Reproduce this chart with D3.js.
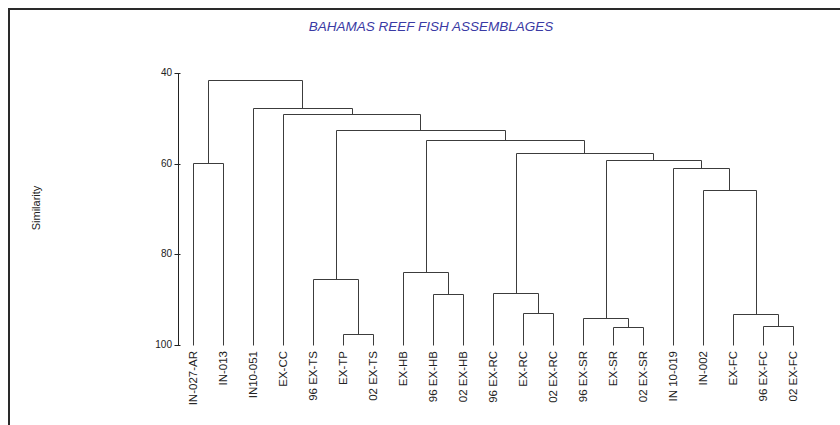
<!DOCTYPE html>
<html>
<head>
<meta charset="utf-8">
<script src="https://cdn.jsdelivr.net/npm/d3@7"></script>
<style>
  html, body { margin: 0; padding: 0; background: #fff; }
  svg { display: block; font-family: "Liberation Sans", Arial, sans-serif; }
</style>
</head>
<body>
<svg id="chart" width="840" height="425"></svg>
<script>
// Sites, in dendrogram leaf order
const leafLabels = [
  "IN-027-AR", "IN-013", "IN10-051", "EX-CC", "96 EX-TS", "EX-TP", "02 EX-TS",
  "EX-HB", "96 EX-HB", "02 EX-HB", "96 EX-RC", "EX-RC", "02 EX-RC",
  "96 EX-SR", "EX-SR", "02 EX-SR", "IN 10-019", "IN-002", "EX-FC", "96 EX-FC", "02 EX-FC"
];

// Agglomeration steps: negative = leaf number (1-based), positive = earlier step number
const mergeLeft  = [-6, -15, -20, -14, -19, -12, -9, -11, -5, -8, -18, -17, -1, 4, 8, 10, 9, -4, -3, 13];
const mergeRight = [-7, -16, -21,   2,   3, -13, -10,  6,  1,  7,  5,  11, -2, 12, 14, 15, 16, 17, 18, 19];
// Similarity (%) at which each step joins
const mergeSimilarity = [97.6, 96.0, 95.8, 94.0, 93.2, 93.0, 88.8, 88.6, 85.5, 84.0,
                         65.9, 61.0, 59.8, 59.3, 57.6, 54.8, 52.6, 49.1, 47.8, 41.5];

const yTicks = [40, 60, 80, 100];
const titleText = "BAHAMAS REEF FISH ASSEMBLAGES";
const axisTitle = "Similarity";

const svg = d3.select("#chart");
svg.append("rect").attr("width", 840).attr("height", 425).attr("fill", "#fff");

// Outer frame (top and left edges)
svg.append("path")
  .attr("d", "M9,425 V9 H840")
  .attr("fill", "none")
  .attr("stroke", "#2a2a2a")
  .attr("stroke-width", 2);

svg.append("text")
  .attr("x", 431).attr("y", 31)
  .attr("text-anchor", "middle")
  .attr("font-size", 13.5)
  .attr("font-style", "italic")
  .attr("fill", "#3a3aa4")
  .text(titleText);

const x = d3.scalePoint().domain(d3.range(leafLabels.length)).range([193, 793]);
const y = d3.scaleLinear().domain([40, 100]).range([73, 345]);

// Build a hierarchy from the merge steps
const steps = [];
function nodeFor(ref) {
  return ref < 0 ? { leaf: -ref - 1, sim: 100 } : steps[ref - 1];
}
mergeLeft.forEach((l, i) => {
  steps.push({ sim: mergeSimilarity[i], children: [nodeFor(l), nodeFor(mergeRight[i])] });
});
const root = d3.hierarchy(steps[steps.length - 1]);
root.eachAfter(n => {
  n.px = n.data.children ? d3.mean(n.children, c => c.px) : x(n.data.leaf);
  n.py = y(n.data.sim);
});

const crisp = v => Math.round(v) + 0.5;
const g = svg.append("g")
  .attr("fill", "none")
  .attr("stroke", "#3c3c3c")
  .attr("stroke-width", 1);

root.each(n => {
  if (!n.children) return;
  const [a, b] = n.children;
  const yy = crisp(n.py);
  g.append("path").attr("d",
    `M${crisp(a.px)},${crisp(a.py)} V${yy} H${crisp(b.px)} V${crisp(b.py)}`);
});

// Similarity axis
const ax = 178.5;
const axisG = svg.append("g");
axisG.append("line")
  .attr("x1", ax).attr("x2", ax)
  .attr("y1", crisp(y(40))).attr("y2", crisp(y(100)))
  .attr("stroke", "#222");
yTicks.forEach(t => {
  axisG.append("line")
    .attr("x1", ax - 4).attr("x2", ax + 2)
    .attr("y1", crisp(y(t))).attr("y2", crisp(y(t)))
    .attr("stroke", "#222");
  axisG.append("text")
    .attr("x", ax - 6.5).attr("y", y(t))
    .attr("dy", "0.3em")
    .attr("text-anchor", "end")
    .attr("font-size", 10)
    .attr("fill", "#222")
    .text(t);
});

svg.append("text")
  .attr("transform", "translate(40,208) rotate(-90)")
  .attr("text-anchor", "middle")
  .attr("font-size", 11)
  .attr("fill", "#222")
  .text(axisTitle);

// Leaf labels
svg.append("g").selectAll("text")
  .data(leafLabels)
  .join("text")
  .attr("transform", (d, i) => `translate(${x(i)},351) rotate(-90)`)
  .attr("dy", "0.35em")
  .attr("text-anchor", "end")
  .attr("font-size", 11.5)
  .attr("fill", "#222")
  .text(d => d);
</script>
</body>
</html>
